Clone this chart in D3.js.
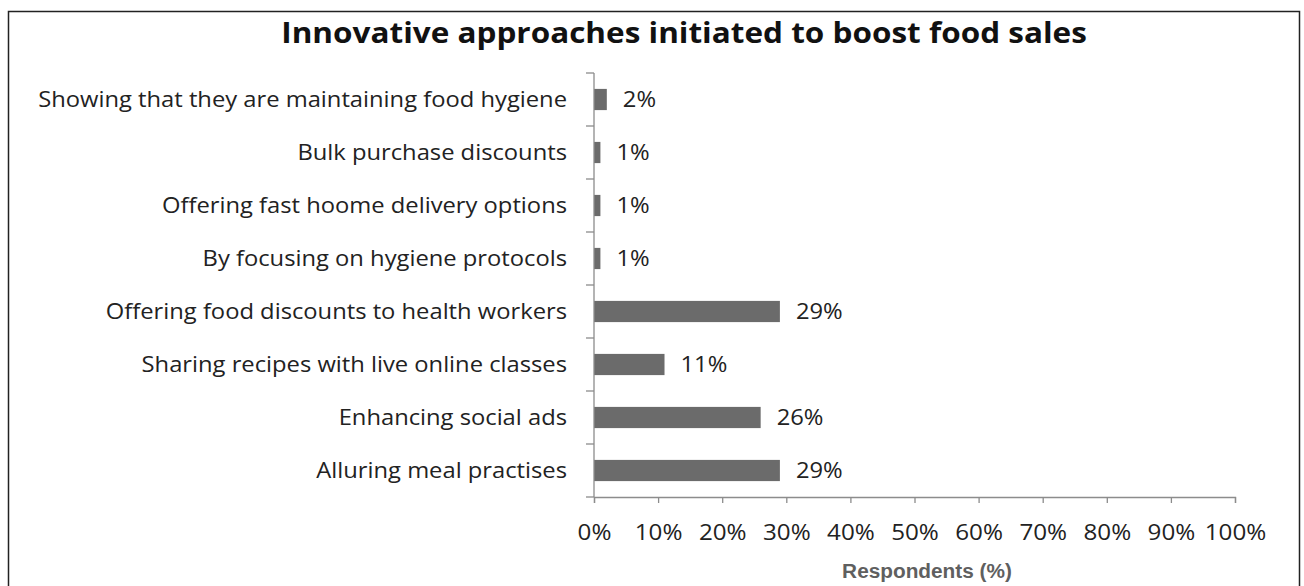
<!DOCTYPE html>
<html>
<head>
<meta charset="utf-8">
<script src="https://cdn.jsdelivr.net/npm/d3@7"></script>
<style>
  html, body { margin: 0; padding: 0; background: #fff; }
  svg { display: block; }
</style>
</head>
<body>
<svg id="chart" width="1304" height="586"></svg>
<script>
// Survey responses: approaches initiated to boost food sales
const categories = [
  "Showing that they are maintaining food hygiene",
  "Bulk purchase discounts",
  "Offering fast hoome delivery options",
  "By focusing on hygiene protocols",
  "Offering food discounts to health workers",
  "Sharing recipes with live online classes",
  "Enhancing social ads",
  "Alluring meal practises"
];
const values = [2, 1, 1, 1, 29, 11, 26, 29];
const xTicks = [0, 10, 20, 30, 40, 50, 60, 70, 80, 90, 100];
const titleText = "Innovative approaches initiated to boost food sales";
const xAxisTitle = "Respondents (%)";

const svg = d3.select("#chart");
const bodyFont = "'Open Sans', Lato, sans-serif";
// The lettering is slightly wide, so text is stretched horizontally
const wide = 1.08;

// Frame around the chart area
svg.append("path")
  .attr("d", "M8.5,586 V11.5 H1299.5 V586")
  .attr("fill", "none")
  .attr("stroke", "#222")
  .attr("stroke-width", 1.5);

const plot = { left: 594, right: 1235, top: 73, bottom: 497 };

const x = d3.scaleLinear().domain([0, 100]).range([plot.left, plot.right]);
const y = d3.scaleBand().domain(categories).range([plot.top, plot.bottom]).paddingInner(0.6).paddingOuter(0.3);

// Title
svg.append("text")
  .attr("transform", "translate(684,42.5) scale(1.125,1)")
  .attr("text-anchor", "middle")
  .attr("font-family", bodyFont)
  .attr("font-weight", "bold")
  .attr("font-size", 28)
  .attr("fill", "#111")
  .text(titleText);

// Bars
svg.append("g").selectAll("rect")
  .data(values)
  .join("rect")
  .attr("x", x(0))
  .attr("y", (d, i) => y(categories[i]))
  .attr("width", d => x(d) - x(0))
  .attr("height", y.bandwidth())
  .attr("fill", "#6b6b6b");

// Value labels
svg.append("g").selectAll("text")
  .data(values)
  .join("text")
  .attr("transform", (d, i) => `translate(${x(d) + 16},${y(categories[i]) + y.bandwidth() / 2}) scale(${wide},1)`)
  .attr("dy", "0.36em")
  .attr("font-family", bodyFont)
  .attr("font-size", 22)
  .attr("fill", "#222")
  .text(d => d + "%");

// Category axis: ticks sit on band boundaries
const yAxisG = svg.append("g");
yAxisG.append("line")
  .attr("x1", plot.left).attr("x2", plot.left)
  .attr("y1", plot.top).attr("y2", plot.bottom)
  .attr("stroke", "#8c8c8c").attr("stroke-width", 1.3);
const step = (plot.bottom - plot.top) / categories.length;
yAxisG.selectAll("line.tick")
  .data(d3.range(categories.length + 1))
  .join("line")
  .attr("class", "tick")
  .attr("x1", plot.left - 8).attr("x2", plot.left)
  .attr("y1", i => plot.top + i * step).attr("y2", i => plot.top + i * step)
  .attr("stroke", "#8c8c8c").attr("stroke-width", 1.3);
yAxisG.selectAll("text")
  .data(categories)
  .join("text")
  .attr("transform", d => `translate(${plot.left - 27},${y(d) + y.bandwidth() / 2}) scale(${wide},1)`)
  .attr("dy", "0.36em")
  .attr("text-anchor", "end")
  .attr("font-family", bodyFont)
  .attr("font-size", 22)
  .attr("fill", "#222")
  .text(d => d);

// Value axis
const xAxis = d3.axisBottom(x)
  .tickValues(xTicks)
  .tickFormat(d => d + "%")
  .tickSize(6)
  .tickPadding(21);
const xAxisG = svg.append("g")
  .attr("transform", `translate(0,${plot.bottom})`)
  .call(xAxis);
xAxisG.select(".domain").attr("stroke", "#8c8c8c").attr("stroke-width", 1.3);
xAxisG.selectAll(".tick line").attr("stroke", "#8c8c8c").attr("stroke-width", 1.3);
xAxisG.selectAll(".tick text")
  .attr("transform", "scale(1.1,1)")
  .attr("font-family", bodyFont)
  .attr("font-size", 22)
  .attr("fill", "#222");

// Axis title
svg.append("text")
  .attr("transform", "translate(927,578) scale(1.04,1)")
  .attr("text-anchor", "middle")
  .attr("font-family", "'Liberation Sans', Arial, sans-serif")
  .attr("font-weight", "bold")
  .attr("font-size", 20)
  .attr("fill", "#5f5f5f")
  .text(xAxisTitle);
</script>
</body>
</html>
